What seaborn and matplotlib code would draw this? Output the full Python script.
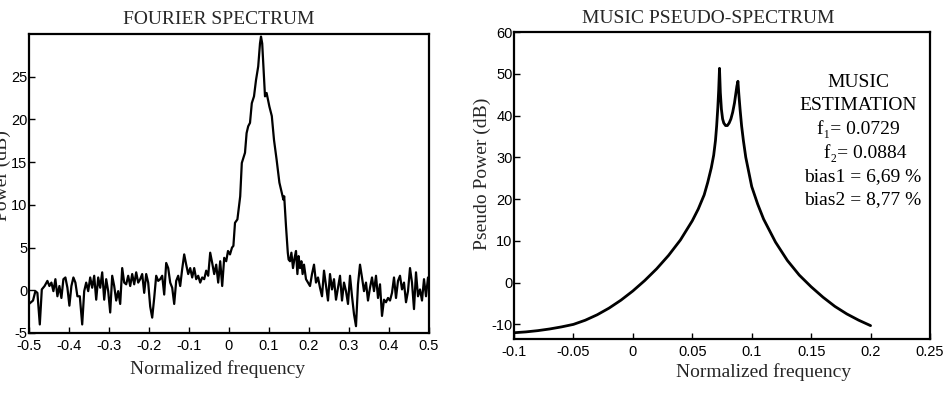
import matplotlib
matplotlib.use("Agg")
import matplotlib.pyplot as plt
import seaborn as sns
import pandas as pd

# ---------------- data ----------------
# Fourier spectrum (normalized frequency, power in dB)
fourier_freq = [
    -0.500, -0.490, -0.484, -0.479, -0.473, -0.468, -0.461, -0.454, -0.449, -0.444,
    -0.439, -0.434, -0.429, -0.424, -0.419, -0.414, -0.409, -0.404, -0.399, -0.394,
    -0.389, -0.384, -0.379, -0.373, -0.367, -0.362, -0.357, -0.352, -0.347, -0.342,
    -0.337, -0.332, -0.327, -0.322, -0.317, -0.312, -0.307, -0.302, -0.297, -0.292,
    -0.287, -0.282, -0.277, -0.272, -0.267, -0.262, -0.257, -0.252, -0.247, -0.242,
    -0.237, -0.232, -0.227, -0.222, -0.217, -0.212, -0.207, -0.202, -0.197, -0.192,
    -0.187, -0.182, -0.177, -0.172, -0.167, -0.162, -0.157, -0.152, -0.147, -0.142,
    -0.137, -0.132, -0.127, -0.122, -0.117, -0.112, -0.107, -0.102, -0.097, -0.092,
    -0.087, -0.082, -0.077, -0.072, -0.067, -0.062, -0.057, -0.052, -0.047, -0.042,
    -0.037, -0.032, -0.027, -0.022, -0.017, -0.012, -0.007, -0.0025, 0.0025, 0.0075,
    0.011, 0.015, 0.021, 0.028, 0.032, 0.040, 0.044, 0.048, 0.0525, 0.057,
    0.0625, 0.0675, 0.073, 0.0775, 0.080, 0.083, 0.086, 0.090, 0.094, 0.101,
    0.107, 0.1125, 0.119, 0.126, 0.132, 0.136, 0.138, 0.1425, 0.147, 0.149,
    0.1525, 0.156, 0.160, 0.164, 0.1675, 0.171, 0.174, 0.1775, 0.181, 0.184,
    0.1875, 0.1925, 0.1975, 0.2025, 0.2075, 0.2125, 0.2175, 0.2225, 0.2275, 0.2325,
    0.2375, 0.2425, 0.2475, 0.2525, 0.2575, 0.2625, 0.2675, 0.2725, 0.2775, 0.2825,
    0.2875, 0.2925, 0.2975, 0.3025, 0.3075, 0.3125, 0.3175, 0.3225, 0.3275, 0.3325,
    0.3375, 0.3425, 0.3475, 0.3525, 0.3575, 0.3625, 0.3675, 0.3725, 0.3775, 0.3825,
    0.3875, 0.3925, 0.3975, 0.4025, 0.4075, 0.4125, 0.4175, 0.4225, 0.4275, 0.4325,
    0.4375, 0.4425, 0.4475, 0.4525, 0.4575, 0.4625, 0.4675, 0.4725, 0.4775, 0.4825,
    0.4875, 0.4925, 0.4975,
]
fourier_power = [
    -1.6, -1.2, -0.1, -0.3, -4.0, 0.1, 0.5, 1.1, 0.5, 0.9,
    -0.1, 1.3, -0.7, 0.5, -0.9, 1.3, 1.5, 0.3, -1.8, 0.5,
    1.5, 0.9, -0.7, -0.7, -4.0, -0.1, 0.9, -0.1, 1.5, 0.3,
    1.7, -1.1, 1.5, 0.3, 2.1, -1.1, 1.3, -0.1, -2.6, 1.7,
    0.5, -1.2, -0.1, -1.6, 2.6, 0.9, 0.7, 1.7, 0.5, 1.9,
    0.7, 2.1, 0.9, 1.3, 1.9, -0.3, 1.9, 0.9, -1.9, -3.2,
    -0.9, 1.7, 1.1, 1.3, 1.7, -0.5, 3.2, 2.6, 0.9, 0.3,
    -1.6, 1.1, 1.7, 0.5, 2.5, 4.2, 3.0, 1.9, 2.6, 1.5,
    2.6, 1.3, 1.7, 0.9, 1.5, 1.3, 2.3, 1.7, 4.4, 3.2,
    1.9, 3.0, 0.9, 3.4, 0.5, 3.8, 3.4, 4.6, 4.2, 5.0,
    5.2, 7.9, 8.3, 11.0, 14.9, 16.1, 18.4, 19.2, 19.6, 21.9,
    22.7, 24.6, 26.2, 28.9, 29.7, 28.9, 26.2, 22.7, 23.1, 21.5,
    20.4, 17.6, 15.3, 12.6, 11.4, 10.6, 11.0, 7.5, 4.4, 3.6,
    3.4, 4.4, 2.6, 3.8, 4.6, 1.9, 4.0, 2.6, 3.4, 1.9,
    3.0, 1.3, 0.9, 0.5, 1.9, 3.0, 0.9, 1.5, 0.3, -0.7,
    2.3, 0.5, -1.2, 1.9, 0.1, 1.3, -1.1, 0.3, 1.7, -1.2,
    0.9, -0.1, -1.6, 1.7, -0.7, -2.8, -4.2, 0.7, 3.0, 1.5,
    -0.1, 0.9, -1.2, 0.3, 1.5, -0.1, 1.7, -0.9, 0.7, -3.0,
    -1.1, -1.4, -0.9, -1.2, -0.3, 1.5, -0.9, 1.1, 1.7, 0.1,
    0.9, -1.4, -0.1, 2.6, 0.9, -2.2, 2.1, -0.7, 0.1, -1.2,
    1.3, -0.7, 1.5,
]

# MUSIC pseudo-spectrum
music_freq = [
    -0.1, -0.09, -0.08, -0.07, -0.06, -0.05, -0.04, -0.03, -0.02, -0.01,
    0.0, 0.01, 0.02, 0.03, 0.04, 0.05, 0.055, 0.06, 0.063, 0.066,
    0.068, 0.0695, 0.0705, 0.0715, 0.0722, 0.0729, 0.0736, 0.0745, 0.0755, 0.0765,
    0.078, 0.0795, 0.081, 0.0825, 0.084, 0.0855, 0.0865, 0.0875, 0.0884, 0.0892,
    0.0902, 0.0915, 0.093, 0.095, 0.0975, 0.1, 0.105, 0.11, 0.12, 0.13,
    0.14, 0.15, 0.16, 0.17, 0.18, 0.19, 0.2,
]
music_power = [
    -12.0, -11.8, -11.5, -11.1, -10.6, -10.0, -9.0, -7.7, -6.1, -4.2,
    -2.0, 0.5, 3.3, 6.5, 10.2, 14.8, 17.6, 21.0, 24.0, 27.5,
    30.5, 34.0, 37.5, 42.0, 46.0, 51.3, 45.5, 41.5, 39.2, 38.2,
    37.6, 37.6, 38.2, 39.2, 40.8, 43.0, 45.0, 47.0, 48.2, 45.0,
    41.5, 37.5, 34.0, 30.0, 26.5, 23.0, 18.8, 15.2, 9.7, 5.3,
    1.8, -1.0, -3.5, -5.7, -7.5, -9.0, -10.3,
]

left_xticks = [-0.5, -0.4, -0.3, -0.2, -0.1, 0.0, 0.1, 0.2, 0.3, 0.4, 0.5]
left_xticklabels = ["-0.5", "-0.4", "-0.3", "-0.2", "-0.1", "0", "0.1", "0.2", "0.3", "0.4", "0.5"]
left_yticks = [-5, 0, 5, 10, 15, 20, 25]
left_yticklabels = ["-5", "0", "5", "10", "15", "20", "25"]

right_xticks = [-0.1, -0.05, 0.0, 0.05, 0.1, 0.15, 0.2, 0.25]
right_xticklabels = ["-0.1", "-0.05", "0", "0.05", "0.1", "0.15", "0.2", "0.25"]
right_yticks = [-10, 0, 10, 20, 30, 40, 50, 60]
right_yticklabels = ["-10", "0", "10", "20", "30", "40", "50", "60"]

annotation_lines = ["MUSIC", "ESTIMATION", "f\u2081= 0.0729", " f\u2082= 0.0884",
                    "bias1 = 6,69 %", "bias2 = 8,77 %"]

# ---------------- style ----------------
sns.set_theme(style="white")
plt.rcParams["font.family"] = ["Liberation Sans", "DejaVu Sans"]
SERIF = ["Liberation Serif", "DejaVu Serif"]

fig = plt.figure(figsize=(9.53, 3.94), dpi=100)
ax1 = fig.add_axes([29 / 953, 61 / 394, 400 / 953, 299 / 394])
ax2 = fig.add_axes([514 / 953, 55 / 394, 416 / 953, 307 / 394])

df_f = pd.DataFrame({"freq": fourier_freq, "power": fourier_power})
df_m = pd.DataFrame({"freq": music_freq, "power": music_power})

sns.lineplot(data=df_f, x="freq", y="power", ax=ax1, color="black",
             linewidth=1.6, estimator=None, sort=False)
sns.lineplot(data=df_m, x="freq", y="power", ax=ax2, color="black",
             linewidth=2.0, estimator=None, sort=False)

for ax in (ax1, ax2):
    for sp in ax.spines.values():
        sp.set_visible(True)
        sp.set_color("black")
        sp.set_linewidth(1.6)
    ax.tick_params(axis="both", which="major", direction="in", length=4,
                   width=1.0, color="black", labelsize=10.5, labelcolor="black",
                   bottom=True, left=True, top=False, right=False)
    ax.tick_params(axis="x", pad=4.5)
    ax.tick_params(axis="y", pad=1.0)
    ax.grid(False)
    ax.set_facecolor("white")

# left axes
ax1.set_xlim(-0.5, 0.5)
ax1.set_ylim(-5, 30)
ax1.set_xticks(left_xticks)
ax1.set_xticklabels(left_xticklabels)
ax1.set_yticks(left_yticks)
ax1.set_yticklabels(left_yticklabels)
ax1.set_title("FOURIER SPECTRUM", family=SERIF, fontsize=14, x=0.474, pad=7.5)
ax1.set_xlabel("Normalized frequency", family=SERIF, fontsize=14)
ax1.set_ylabel("Power (dB)", family=SERIF, fontsize=14)
ax1.xaxis.set_label_coords(0.4725, -0.09)
ax1.yaxis.set_label_coords(-0.045, 0.528)

# right axes
ax2.set_xlim(-0.1, 0.25)
ax2.set_ylim(-13.5, 60)
ax2.set_xticks(right_xticks)
ax2.set_xticklabels(right_xticklabels)
ax2.set_yticks(right_yticks)
ax2.set_yticklabels(right_yticklabels)
ax2.set_title("MUSIC PSEUDO-SPECTRUM", family=SERIF, fontsize=14, x=0.466, pad=6.8)
ax2.set_xlabel("Normalized frequency", family=SERIF, fontsize=14)
ax2.set_ylabel("Pseudo Power (dB)", family=SERIF, fontsize=14)
ax2.xaxis.set_label_coords(0.599, -0.078)
ax2.yaxis.set_label_coords(-0.055, 0.539)

ann_x = [0.827, 0.827, 0.827, 0.839, 0.839, 0.839]
ann_y = [0.837, 0.762, 0.684, 0.606, 0.528, 0.453]
for txt, xx, yy in zip(annotation_lines, ann_x, ann_y):
    ax2.text(xx, yy, txt, transform=ax2.transAxes, ha="center", va="center",
             family=SERIF, fontsize=14, color="black")

fig.savefig("out.png", dpi=100, facecolor="white")
